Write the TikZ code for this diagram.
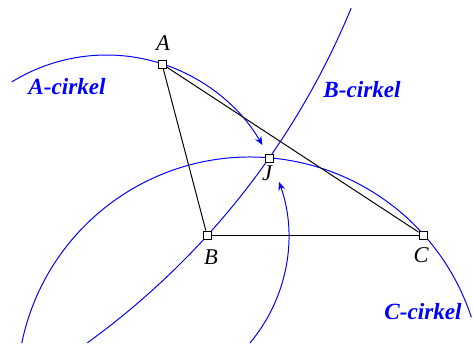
\documentclass[tikz,border=0pt]{standalone}
\usepackage{fontspec}
\setmainfont{Liberation Serif}
\usetikzlibrary{arrows.meta}

\begin{document}
\begin{tikzpicture}[
    x=0.025cm, y=0.025cm,
    point/.style={rectangle, draw, fill=white, inner sep=0pt, minimum size=5.8pt, line width=0.6pt},
    vlabel/.style={font=\fontsize{16}{16}\selectfont\itshape},
    clabel/.style={blue, font=\fontsize{16.5}{16.5}\selectfont\bfseries\itshape},
    circ/.style={blue, line width=0.7pt},
    directed/.style={-{Stealth[length=6pt, width=5pt]}, blue, line width=0.7pt}
]
    \useasboundingbox (0,0) rectangle (473,345);
    \coordinate (Ac) at (106.5,110);
    \coordinate (Bc) at (-370,634);
    \coordinate (Cc) at (250,-45);
    \coordinate (Dc) at (123.5,108);
    \draw[circ] (Ac) ++(121.7:180) arc[start angle=121.7, end angle=72, radius=180];
    \draw[directed] (Ac) ++(71:180) arc[start angle=71, end angle=30, radius=180];
    \draw[circ] (Bc) ++(-22.4:780) arc[start angle=-22.4, end angle=-54.1, radius=780];
    \draw[circ] (Cc) ++(168.4:233) arc[start angle=168.4, end angle=18.2, radius=233];
    \draw[directed] (Dc) ++(-40:165) arc[start angle=-40, end angle=19.5, radius=165];
    \node[point] (A) at (162,281) {};
    \node[point] (B) at (207,110) {};
    \node[point] (C) at (423,110) {};
    \node[point] (J) at (269,187) {};
    \draw[line width=0.7pt] (A) -- (B);
    \draw[line width=0.7pt] (B) -- (C);
    \draw[line width=0.7pt] (C) -- (A);
    \node[vlabel] (lA) at (163,302) {A};
    \node[vlabel] (lB) at (211,88) {B};
    \node[vlabel] (lC) at (421,90) {C};
    \node[vlabel] (lJ) at (267,172) {J};
    \node[clabel] (cA) at (67,258) {A-cirkel};
    \node[clabel] (cB) at (362,255) {B-cirkel};
    \node[clabel] (cC) at (423,33) {C-cirkel};
\end{tikzpicture}
\end{document}
